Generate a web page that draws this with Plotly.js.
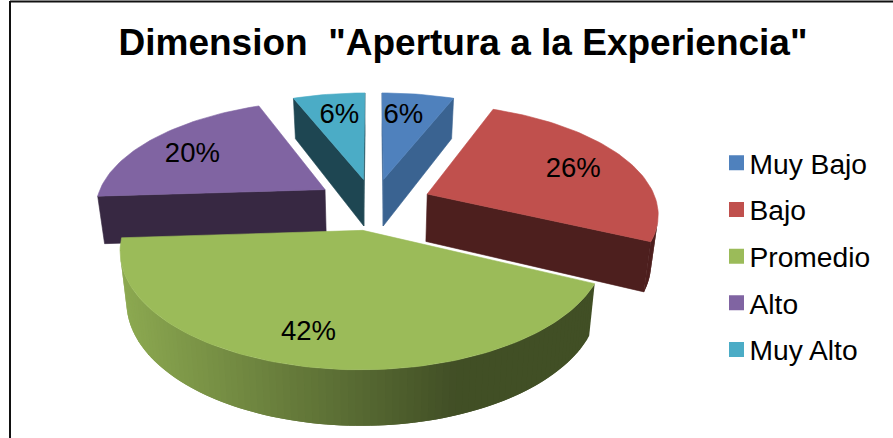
<!DOCTYPE html>
<html>
<head>
<meta charset="utf-8">
<script src="https://cdn.plot.ly/plotly-3.0.1.min.js"></script>
<style>html,body{margin:0;padding:0;background:#fff}#c{width:893px;height:438px}</style>
</head>
<body>
<div id="c"></div>
<script>
// Data
const categories = ["Muy Bajo", "Bajo", "Promedio", "Alto", "Muy Alto"];
const percentages = [6, 26, 42, 20, 6];
const chartTitle = 'Dimension \u00a0"Apertura a la Experiencia"';

// Styles
const topColors = ["#4F81BD", "#C0504D", "#9BBB59", "#8064A2", "#4BACC6"];
const sideColors = ["#3A6391", "#4D1F1E", "#414C24", "#372842", "#1E4652"];
const FONT = '"Liberation Sans", Arial, sans-serif';

// The exploded 3-D pie is drawn as a projection of a unit disc.
const view = {cx: 373.5, a: 230, e: -75, f: 204, g: 0.16, depth0: 48, depthV: 6.5, shrink: 0.975};
const pulls = [0.24, 0.255, 0.24, 0.255, 0.24];
const labelRadius = 0.76;
const labelNudgeDeg = [-2.8, 0, 3.7, -1, 1.2];
const labelShiftX = [0, -5, -1, 2, 0];
const labelShiftY = [4, 4, 5, 4, 4];
const paintOrder = [4, 0, 3, 1, 2];

function project(u, v, lower) {
  const w = 1 + view.g * v;
  let x = view.cx + view.a * u / w;
  let y = (view.f + view.e * v) / w;
  if (lower) {
    x = view.cx + (x - view.cx) * view.shrink;
    y += view.depth0 - view.depthV * v;
  }
  return [x, y];
}
function area(pts) {
  let s = 0;
  pts.forEach((p, i) => { const q = pts[(i + 1) % pts.length]; s += p[0] * q[1] - q[0] * p[1]; });
  return s / 2;
}
function poly(pts, color, lineWidth) {
  const closed = pts.concat([pts[0]]);
  return {
    type: "scatter", mode: "lines", fill: "toself", fillcolor: color,
    x: closed.map(p => p[0]), y: closed.map(p => p[1]),
    line: {color: color, width: lineWidth}, showlegend: false, hoverinfo: "skip"
  };
}
function hex(c) { return [1, 3, 5].map(i => parseInt(c.substr(i, 2), 16)); }
function greenRim(x) {
  const t = Math.max(0, Math.min(1, (x - 125) / 335));
  const k = 0.90 + (0.42 - 0.90) * t;
  const c = hex(topColors[2]).map(v => Math.round(v * k));
  return "rgb(" + c.join(",") + ")";
}

const total = percentages.reduce((a, b) => a + b, 0);
const starts = [];
percentages.reduce((acc, v, i) => { starts[i] = acc; return acc + v; }, 0);
const toRad = p => p / total * 2 * Math.PI;

const traces = [];
paintOrder.forEach(i => {
  const a0 = toRad(starts[i]), a1 = toRad(starts[i] + percentages[i]), mid = (a0 + a1) / 2;
  const ox = pulls[i] * Math.sin(mid), oy = pulls[i] * Math.cos(mid);
  const n = Math.max(4, Math.ceil((a1 - a0) / (1.5 * Math.PI / 180)));
  const rimPts = [];
  for (let k = 0; k <= n; k++) {
    const t = a0 + (a1 - a0) * k / n;
    rimPts.push([ox + Math.sin(t), oy + Math.cos(t)]);
  }
  const apex = [ox, oy];
  const top = p => project(p[0], p[1], false);
  const low = p => project(p[0], p[1], true);
  const wall = (p, q, color, lw) => {
    const quad = [top(p), top(q), low(q), low(p)];
    if (area(quad) < 0) traces.push(poly(quad, color, lw));
  };
  // Rim strips overlap their neighbour so that no seams show
  for (let k = 0; k < n; k++) {
    const p = rimPts[k], q = rimPts[Math.min(k + 2, n)];
    const xm = top(rimPts[k])[0];
    wall(p, q, i === 2 ? greenRim(xm) : sideColors[i], 0);
  }
  wall(apex, rimPts[0], sideColors[i], 0.6);
  wall(rimPts[n], apex, sideColors[i], 0.6);
  traces.push(poly([apex].concat(rimPts).map(top), topColors[i], 0.6));
});

// Percentage labels
const labelPts = percentages.map((v, i) => {
  const mid = toRad(starts[i] + v / 2);
  const lab = mid + labelNudgeDeg[i] * Math.PI / 180;
  const p = project(pulls[i] * Math.sin(mid) + labelRadius * Math.sin(lab),
                    pulls[i] * Math.cos(mid) + labelRadius * Math.cos(lab), false);
  return [p[0] + labelShiftX[i], p[1] + labelShiftY[i]];
});
traces.push({
  type: "scatter", mode: "text",
  x: labelPts.map(p => p[0]), y: labelPts.map(p => p[1]),
  text: percentages.map(v => v + "%"), textposition: "middle center",
  textfont: {family: FONT, size: 27.5, color: "#000"},
  showlegend: false, hoverinfo: "skip"
});

// Legend entries
categories.forEach((name, i) => traces.push({
  type: "scatter", mode: "markers", name: name, legendgroup: "g" + i,
  x: [null], y: [null],
  marker: {symbol: "square", size: 15, color: topColors[i]}
}));

const layout = {
  width: 893, height: 438,
  margin: {l: 0, r: 0, t: 0, b: 0},
  paper_bgcolor: "#fff", plot_bgcolor: "#fff",
  title: {text: "<b>" + chartTitle + "</b>", font: {family: FONT, size: 37, color: "#000"},
          x: 463 / 893, xanchor: "center", y: 1 - 42 / 438, yanchor: "middle"},
  xaxis: {visible: false, range: [0, 893], fixedrange: true},
  yaxis: {visible: false, range: [438, 0], fixedrange: true},
  showlegend: true,
  legend: {x: 709.5 / 893, xanchor: "left", y: 1 - 138 / 438, yanchor: "top",
           font: {family: FONT, size: 28.2, color: "#000"},
           traceorder: "grouped", tracegroupgap: 7, bgcolor: "rgba(0,0,0,0)"},
  hovermode: false,
  shapes: [
    {type: "line", xref: "paper", yref: "paper", x0: 10 / 893, x1: 10 / 893, y0: 0, y1: 1 - 1 / 438,
     line: {color: "#111", width: 2}},
    {type: "line", xref: "paper", yref: "paper", x0: 10 / 893, x1: 1, y0: 1 - 1.5 / 438, y1: 1 - 1.5 / 438,
     line: {color: "#111", width: 2}}
  ]
};

Plotly.newPlot("c", traces, layout, {displayModeBar: false, staticPlot: true}).then(() => {
  // Bring the legend swatches closer to their labels
  document.querySelectorAll("#c .legendpoints").forEach(g => g.setAttribute("transform", "translate(7,0)"));
});
</script>
</body>
</html>
